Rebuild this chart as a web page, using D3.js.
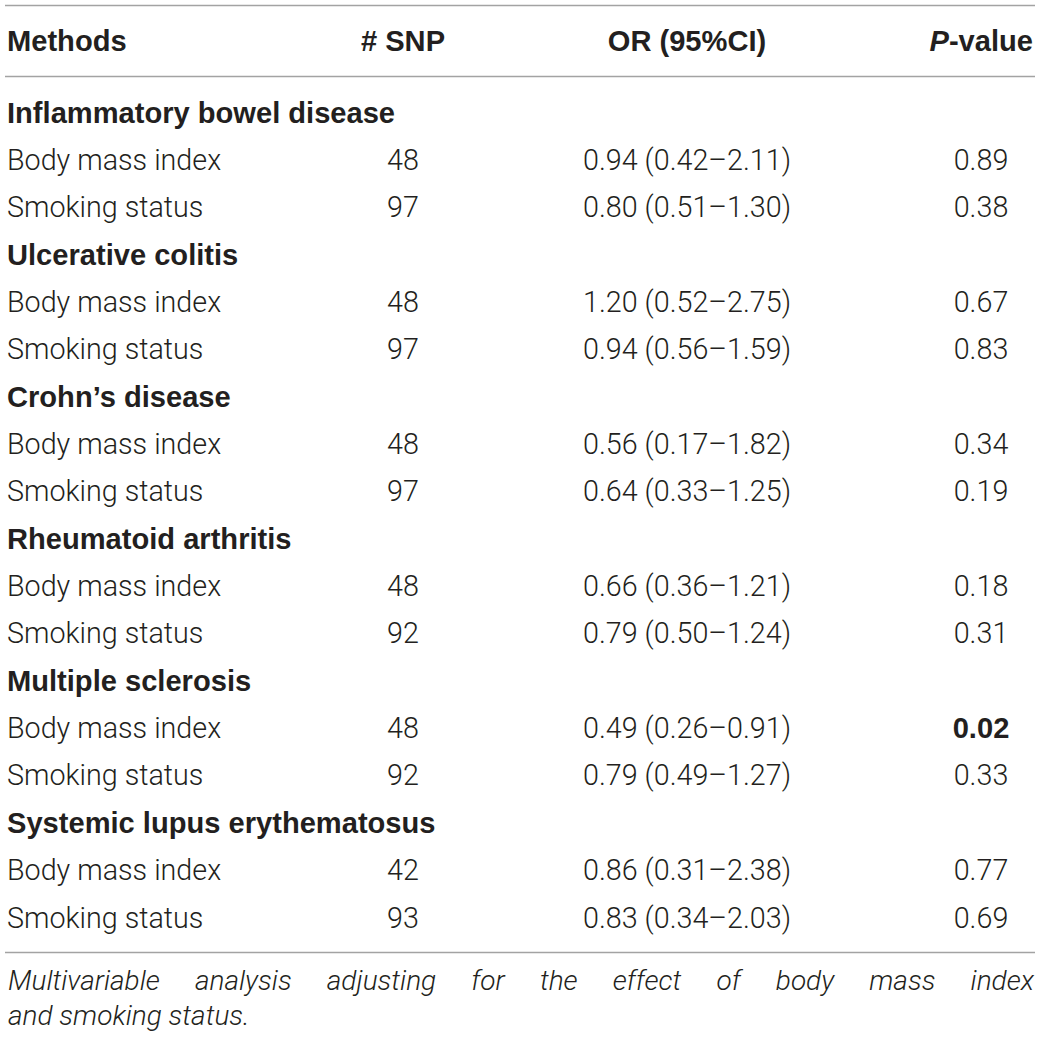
<!DOCTYPE html>
<html>
<head>
<meta charset="utf-8">
<script src="https://cdn.jsdelivr.net/npm/d3@7"></script>
<style>
  html, body { margin: 0; padding: 0; background: #ffffff; }
  svg { display: block; }
  .hdr { font-family: "Liberation Sans", Arial, sans-serif; font-weight: 700; font-size: 29.1px; fill: #231f20; }
  .body { font-family: Roboto, "Liberation Sans", sans-serif; font-weight: 300; font-size: 28.7px; fill: #231f20; }
  .cap { font-family: Roboto, "Liberation Sans", sans-serif; font-weight: 300; font-style: italic; font-size: 28px; fill: #231f20; }
</style>
</head>
<body>
<svg id="chart" width="1040" height="1038"></svg>
<script>
// ---- data ----
const columns = ["Methods", "# SNP", "OR (95%CI)", "P-value"];
const outcomes = ["Inflammatory bowel disease", "Ulcerative colitis", "Crohn\u2019s disease",
                  "Rheumatoid arthritis", "Multiple sclerosis", "Systemic lupus erythematosus"];
const exposures = ["Body mass index", "Smoking status"];
const snpCounts = [[48, 97], [48, 97], [48, 97], [48, 92], [48, 92], [42, 93]];
const orValues = [["0.94 (0.42\u20132.11)", "0.80 (0.51\u20131.30)"],
                  ["1.20 (0.52\u20132.75)", "0.94 (0.56\u20131.59)"],
                  ["0.56 (0.17\u20131.82)", "0.64 (0.33\u20131.25)"],
                  ["0.66 (0.36\u20131.21)", "0.79 (0.50\u20131.24)"],
                  ["0.49 (0.26\u20130.91)", "0.79 (0.49\u20131.27)"],
                  ["0.86 (0.31\u20132.38)", "0.83 (0.34\u20132.03)"]];
const pValues = [["0.89", "0.38"], ["0.67", "0.83"], ["0.34", "0.19"],
                 ["0.18", "0.31"], ["0.02", "0.33"], ["0.77", "0.69"]];
const significant = [[false, false], [false, false], [false, false],
                     [false, false], [true, false], [false, false]];
const caption = "Multivariable analysis adjusting for the effect of body mass index and smoking status.";

// ---- build rows ----
const rows = [];
outcomes.forEach((o, i) => {
  rows.push({type: "section", label: o});
  exposures.forEach((e, j) => {
    rows.push({type: "data", label: e, snp: snpCounts[i][j], or: orValues[i][j],
               p: pValues[i][j], bold: significant[i][j]});
  });
});

const svg = d3.select("#chart");
const left = 5, right = 1035;

const y = d3.scaleBand().domain(d3.range(rows.length)).range([88.4, 88.4 + 47.35 * rows.length]);
const colX = d3.scaleOrdinal().domain(columns).range([7, 403, 687, 981]);
const colAnchor = {"Methods": "start", "# SNP": "middle", "OR (95%CI)": "middle", "P-value": "middle"};

// rules
const rules = [5.5, 76.5, 952.5];
svg.selectAll("line.rule").data(rules).enter().append("line")
  .attr("x1", left).attr("x2", right)
  .attr("y1", d => d).attr("y2", d => d)
  .attr("stroke", "#a3a3a3").attr("stroke-width", 1.6);

// header
const hdrBase = 51;
columns.forEach(c => {
  const t = svg.append("text").attr("class", "hdr")
    .attr("x", c === "P-value" ? 1033 : colX(c)).attr("y", hdrBase)
    .attr("text-anchor", c === "P-value" ? "end" : colAnchor[c]);
  if (c === "P-value") {
    t.append("tspan").attr("font-style", "italic").text("P");
    t.append("tspan").text("-value");
  } else {
    t.text(c);
  }
});

// body rows
const g = svg.append("g");
rows.forEach((r, i) => {
  const cy = y(i) + y.bandwidth() / 2;
  const base = cy + 10.5;
  if (r.type === "section") {
    g.append("text").attr("class", "hdr").attr("x", colX("Methods")).attr("y", base).text(r.label);
  } else {
    g.append("text").attr("class", "body").attr("x", colX("Methods")).attr("y", base).text(r.label);
    g.append("text").attr("class", "body").attr("x", colX("# SNP")).attr("y", base)
      .attr("text-anchor", "middle").text(r.snp);
    g.append("text").attr("class", "body").attr("x", colX("OR (95%CI)")).attr("y", base)
      .attr("text-anchor", "middle").text(r.or);
    g.append("text").attr("class", r.bold ? "hdr" : "body").attr("x", colX("P-value")).attr("y", base)
      .attr("text-anchor", "middle").text(r.p);
  }
});

// caption, first line justified
const words = caption.split(" ");
const line1 = words.slice(0, 10), line2 = words.slice(10);
const capY1 = 990, capY2 = 1025;
const capLeft = 8, capRight = 1034;
const tmp = line1.map(w => svg.append("text").attr("class", "cap").attr("y", capY1).text(w));
const widths = tmp.map(t => t.node().getComputedTextLength());
const total = d3.sum(widths);
const gap = (capRight - capLeft - total) / (line1.length - 1);
let xx = capLeft;
tmp.forEach((t, k) => { t.attr("x", xx); xx += widths[k] + gap; });
svg.append("text").attr("class", "cap").attr("x", capLeft).attr("y", capY2).text(line2.join(" "));
</script>
</body>
</html>
